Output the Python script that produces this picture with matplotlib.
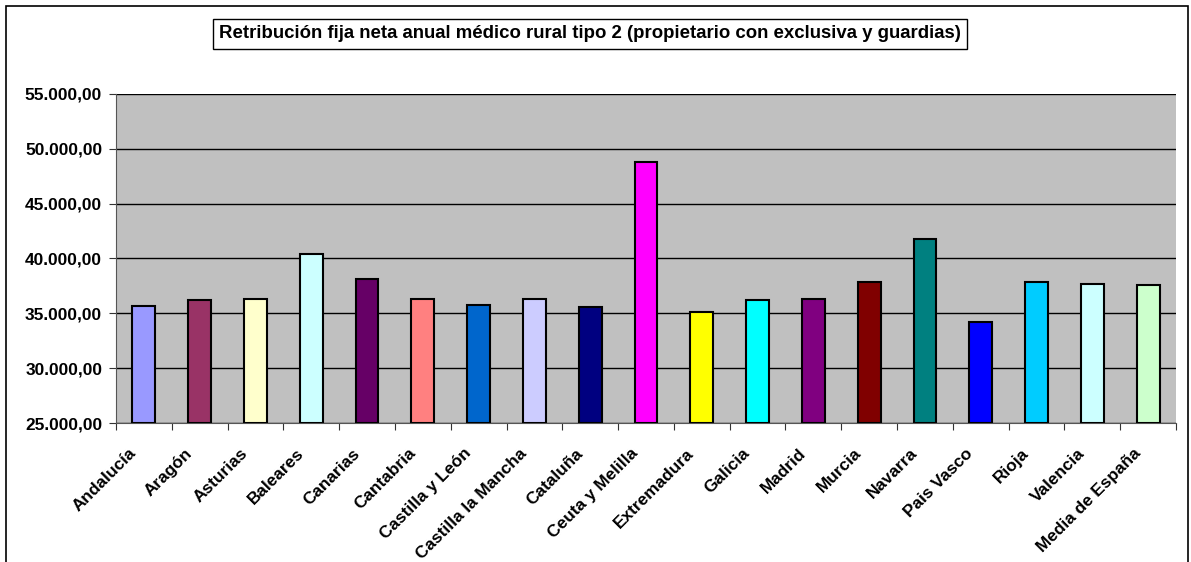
import numpy as np
import matplotlib.pyplot as plt
from matplotlib.patches import Rectangle
from matplotlib.ticker import FuncFormatter
from matplotlib.transforms import ScaledTranslation, blended_transform_factory

regiones = ["Andalucía", "Aragón", "Asturias", "Baleares", "Canarias", "Cantabria",
            "Castilla y León", "Castilla la Mancha", "Cataluña", "Ceuta y Melilla",
            "Extremadura", "Galicia", "Madrid", "Murcia", "Navarra", "Pais Vasco",
            "Rioja", "Valencia", "Media de España"]
retribucion = [35700, 36250, 36340, 40370, 38160, 36280, 35760, 36340, 35580, 48840,
               35120, 36190, 36340, 37860, 41740, 34210, 37830, 37650, 37590]
colores = ["#9999FF", "#993366", "#FFFFCC", "#CCFFFF", "#660066", "#FF8080",
           "#0066CC", "#CCCCFF", "#000080", "#FF00FF", "#FFFF00", "#00FFFF",
           "#800080", "#800000", "#008080", "#0000FF", "#00CCFF", "#CCFFFF", "#CCFFCC"]
titulo = "Retribución fija neta anual médico rural tipo 2 (propietario con exclusiva y guardias)"

plt.rcParams['font.family'] = ['Liberation Sans', 'DejaVu Sans']

fig = plt.figure(figsize=(11.91, 5.62), dpi=100)
ax = fig.add_axes([116 / 1191, 1 - 423 / 562, (1176 - 116) / 1191, (423 - 94) / 562])
ax.set_facecolor("#C0C0C0")

x = np.arange(len(regiones))
ax.bar(x, np.array(retribucion) - 25000, bottom=25000, width=0.41, color=colores,
       edgecolor="black", linewidth=1.5, zorder=3)

ax.set_ylim(25000, 55000)
ax.set_xlim(-0.5, len(regiones) - 0.5)
ax.set_yticks(np.arange(25000, 55001, 5000))
ax.yaxis.set_major_formatter(FuncFormatter(
    lambda v, p: f"{v:,.2f}".replace(",", "X").replace(".", ",").replace("X", ".")))
ax.grid(axis="y", color="black", linewidth=1, zorder=1)

# category labels drawn as text so they can be nudged like the original
ax.set_xticks(np.arange(-0.5, len(regiones), 1))
ax.set_xticklabels([])
ax.tick_params(axis="x", length=5, color="#333333")
trans = blended_transform_factory(ax.transData, ax.transAxes) + \
    ScaledTranslation(-10 / 100, -28 / 100, fig.dpi_scale_trans)
for i, nombre in zip(x, regiones):
    ax.text(i, 0, nombre, transform=trans, rotation=45, rotation_mode="anchor",
            ha="right", va="center", fontsize=12.4, fontweight="bold", clip_on=False)

ax.tick_params(axis="y", length=5, color="#333333", labelsize=12.4, pad=5)
for lab in ax.get_yticklabels():
    lab.set_fontweight("bold")

for s in ["top", "right"]:
    ax.spines[s].set_visible(False)
ax.spines["left"].set_color("#555555")
ax.spines["bottom"].set_color("#555555")

fig.patches.append(Rectangle((6 / 1191, -0.1), (1188 - 6) / 1191, 1.1 - 6 / 562,
                             transform=fig.transFigure, fill=False,
                             edgecolor="black", linewidth=1.2))

fig.text(590 / 1191, 1 - 34 / 562, titulo, ha="center", va="center",
         fontsize=13.4, fontweight="bold",
         bbox=dict(boxstyle="square,pad=0.35", facecolor="white", edgecolor="black",
                   linewidth=1))

fig.savefig("out.png", dpi=100)
